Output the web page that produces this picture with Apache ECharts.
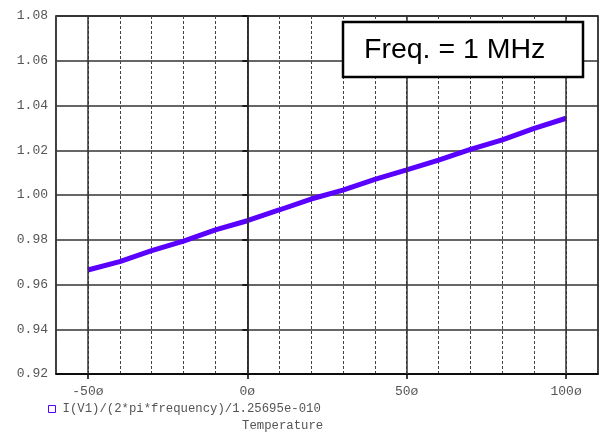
<!DOCTYPE html>
<html>
<head>
<meta charset="utf-8">
<script src="https://cdn.jsdelivr.net/npm/echarts@6/dist/echarts.min.js"></script>
<style>html,body{margin:0;padding:0;background:#fff;}#c{width:606px;height:432px;}</style>
</head>
<body>
<div id="c"></div>
<script>
const temperature = [-50, -40, -30, -20, -10, 0, 10, 20, 30, 40, 50, 60, 70, 80, 90, 100];
const ratio = [0.9665, 0.9702, 0.9751, 0.9794, 0.9844, 0.9885, 0.9933, 0.9982, 1.0022, 1.0070, 1.0112, 1.0156, 1.0204, 1.0246, 1.0298, 1.0343];
const majorX = [-50, 0, 50, 100];
const seriesName = 'I(V1)/(2*pi*frequency)/1.25695e-010';
const xName = 'Temperature';
const boxText = 'Freq. = 1 MHz';

const mono = 'Liberation Mono';
const chart = echarts.init(document.getElementById('c'));
chart.setOption({
  animation: false,
  backgroundColor: '#fff',
  grid: { left: 56, right: 8, top: 16, bottom: 58, show: true, borderColor: '#000', borderWidth: 1.5, backgroundColor: 'transparent' },
  xAxis: [{
    type: 'value', min: -60, max: 110, interval: 10,
    axisLine: { show: false }, axisTick: { show: false }, axisLabel: { show: false },
    splitLine: { show: true, lineStyle: { color: '#444', type: [3, 2], width: 1 } }
  }, {
    type: 'value', min: -60, max: 110, position: 'bottom',
    axisLine: { show: true, lineStyle: { color: '#000', width: 1.5 } },
    axisTick: { show: true, length: 5, inside: false, customValues: majorX, lineStyle: { color: '#000', width: 1.5 } },
    axisLabel: { show: true, customValues: majorX, margin: 11, color: '#555', fontFamily: mono, fontSize: 13,
      formatter: v => v + 'ø' },
    splitLine: { show: false }
  }],
  yAxis: {
    type: 'value', min: 0.92, max: 1.08, interval: 0.02,
    axisLine: { show: true, lineStyle: { color: '#000', width: 1.5 } },
    axisTick: { show: true, length: 5, lineStyle: { color: '#000', width: 1.5 } },
    axisLabel: { margin: 8, color: '#555', fontFamily: mono, fontSize: 13, formatter: v => v.toFixed(2) },
    splitLine: { show: true, lineStyle: { color: '#333', width: 1.5 } }
  },
  legend: {
    left: 43, top: 398, itemWidth: 7, itemHeight: 7, icon: 'rect',
    textStyle: { color: '#555', fontFamily: mono, fontSize: 12.3, padding: [0, 0, 0, 2] },
    data: [{ name: seriesName, itemStyle: { color: '#fff', borderColor: '#5a00ff', borderWidth: 1 } }]
  },
  graphic: [
    { type: 'text', left: 242, top: 420, style: { text: xName, fill: '#555', font: '12.3px "Liberation Mono"' } },
    { type: 'rect', shape: { x: 343, y: 22, width: 240, height: 55 }, style: { fill: '#fff', stroke: '#000', lineWidth: 2.5 }, z: 100 },
    { type: 'text', left: 364, top: 36, style: { text: boxText, fill: '#000', font: '28.5px "Liberation Sans"' }, z: 101 }
  ],
  series: [{
    name: seriesName, type: 'line', xAxisIndex: 0, showSymbol: false, symbol: 'none',
    data: temperature.map((t, i) => [t, ratio[i]]),
    lineStyle: { color: '#5a00ff', width: 5 },
    itemStyle: { color: '#5a00ff' },
    markLine: {
      silent: true, symbol: 'none', label: { show: false },
      lineStyle: { color: '#333', type: 'solid', width: 1.5 },
      data: majorX.map(v => ({ xAxis: v }))
    }
  }]
});
</script>
</body>
</html>
